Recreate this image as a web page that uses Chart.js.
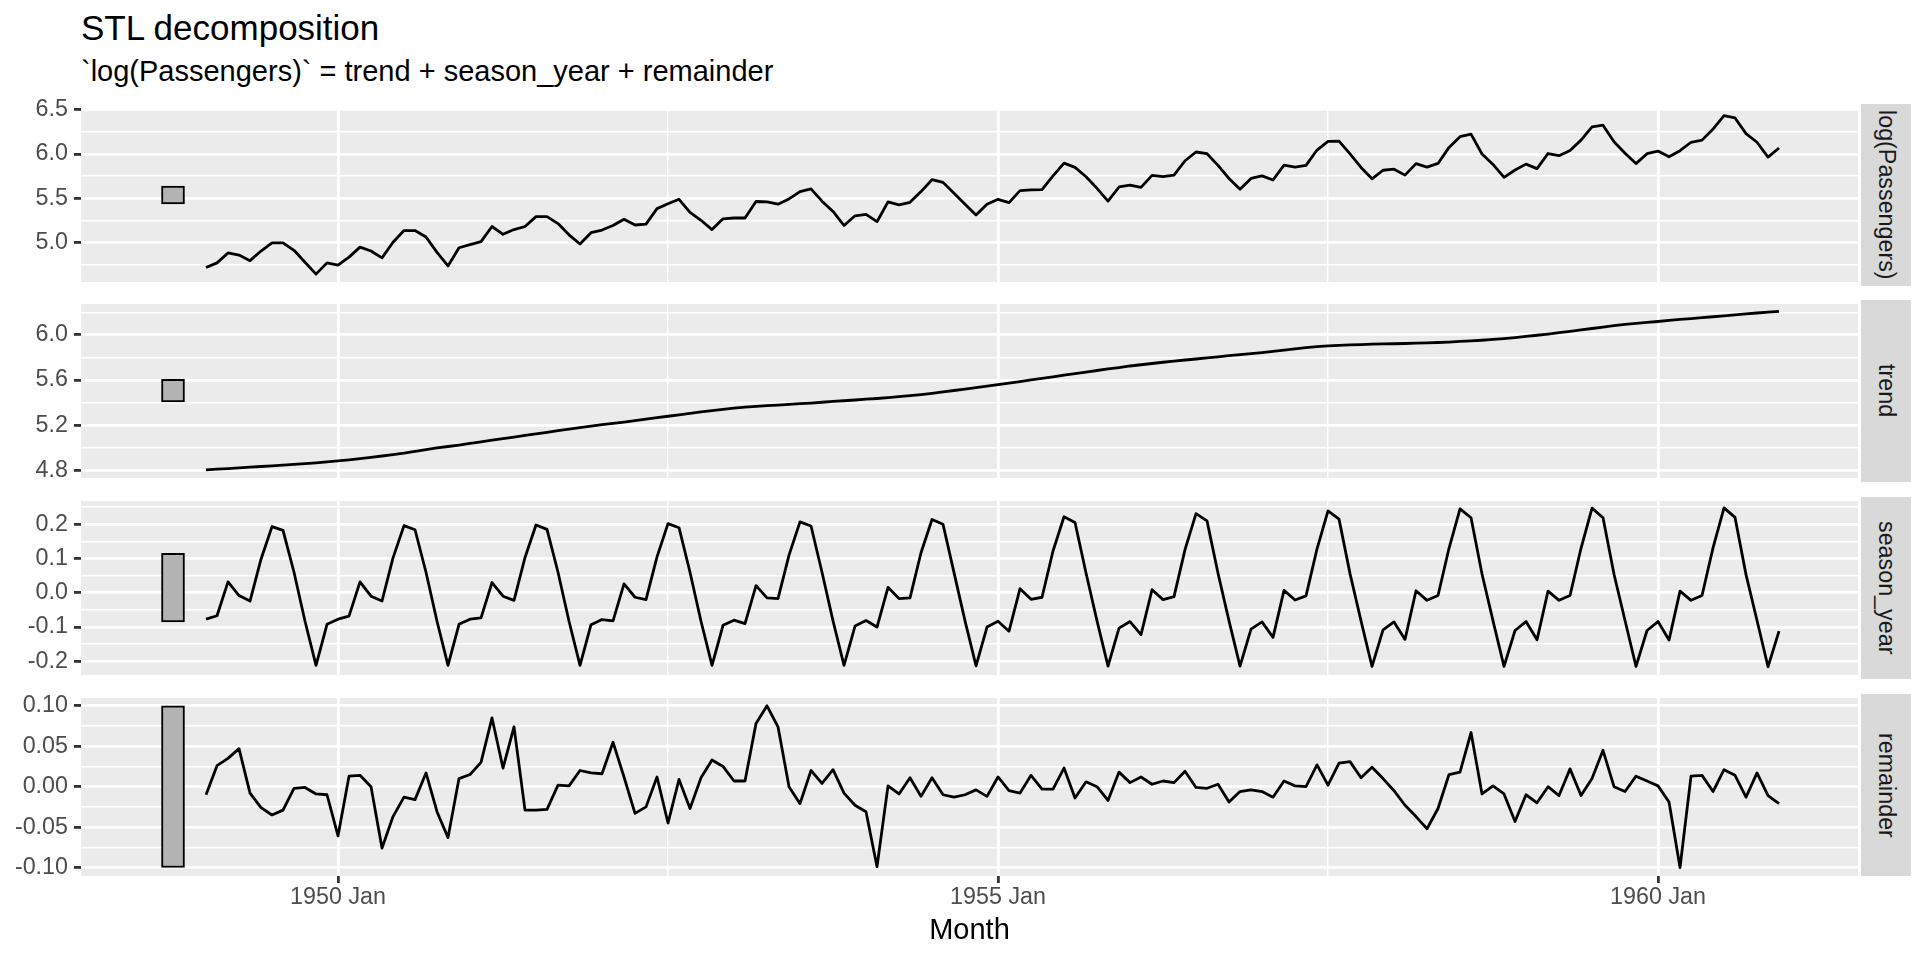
<!DOCTYPE html>
<html>
<head>
<meta charset="utf-8">
<script src="https://cdn.jsdelivr.net/npm/chart.js@4.4.1/dist/chart.umd.min.js"></script>
<style>
  body { margin: 0; background: #fff; width: 1920px; height: 960px; overflow: hidden; position: relative;
         font-family: "Liberation Sans", Arial, sans-serif; }
  canvas { position: absolute; left: 0; }
  .title { position: absolute; left: 81px; top: 10px; font-size: 35px; line-height: 35px; color: #000; white-space: nowrap; }
  .subtitle { position: absolute; left: 81px; top: 57px; font-size: 29px; line-height: 29px; color: #000; white-space: nowrap; }
  .strip { position: absolute; left: 1861px; width: 50px; height: 182px; background: #D9D9D9;
           display: flex; align-items: center; justify-content: center; }
  .strip span { writing-mode: vertical-rl; font-size: 23.3px; color: #1A1A1A; white-space: nowrap; }
</style>
</head>
<body>
<div class="title">STL decomposition</div>
<div class="subtitle">`log(Passengers)` = trend + season_year + remainder</div>

<script>
// monthly series, Jan 1949 .. Dec 1960
const startYear = 1949;

const logPassengers = [
  4.718, 4.771, 4.883, 4.860, 4.796, 4.905, 4.997, 4.997, 4.913, 4.779, 4.644, 4.771,
  4.745, 4.836, 4.949, 4.905, 4.828, 5.004, 5.136, 5.136, 5.063, 4.890, 4.736, 4.942,
  4.977, 5.011, 5.182, 5.094, 5.147, 5.182, 5.293, 5.293, 5.215, 5.088, 4.984, 5.112,
  5.142, 5.193, 5.263, 5.199, 5.209, 5.384, 5.438, 5.489, 5.342, 5.252, 5.147, 5.268,
  5.278, 5.278, 5.464, 5.460, 5.434, 5.493, 5.576, 5.606, 5.468, 5.352, 5.193, 5.303,
  5.318, 5.236, 5.460, 5.425, 5.455, 5.576, 5.710, 5.680, 5.557, 5.434, 5.313, 5.434,
  5.489, 5.451, 5.587, 5.595, 5.598, 5.753, 5.897, 5.849, 5.743, 5.613, 5.468, 5.628,
  5.649, 5.624, 5.759, 5.746, 5.762, 5.924, 6.023, 6.004, 5.872, 5.724, 5.602, 5.724,
  5.753, 5.707, 5.875, 5.852, 5.872, 6.045, 6.142, 6.146, 6.001, 5.849, 5.720, 5.817,
  5.829, 5.762, 5.892, 5.852, 5.894, 6.075, 6.196, 6.225, 6.001, 5.883, 5.737, 5.820,
  5.886, 5.835, 6.006, 5.981, 6.040, 6.157, 6.306, 6.326, 6.138, 6.009, 5.892, 6.004,
  6.033, 5.969, 6.038, 6.133, 6.157, 6.282, 6.433, 6.407, 6.230, 6.133, 5.966, 6.068
];

const trend = [
  4.805, 4.810, 4.816, 4.822, 4.828, 4.834, 4.840, 4.846, 4.853, 4.860, 4.867, 4.875,
  4.883, 4.893, 4.904, 4.915, 4.927, 4.939, 4.953, 4.968, 4.984, 4.998, 5.011, 5.024,
  5.039, 5.053, 5.067, 5.081, 5.095, 5.109, 5.123, 5.137, 5.151, 5.165, 5.178, 5.191,
  5.205, 5.215, 5.227, 5.240, 5.253, 5.266, 5.279, 5.292, 5.305, 5.317, 5.328, 5.339,
  5.350, 5.359, 5.366, 5.373, 5.378, 5.384, 5.390, 5.396, 5.403, 5.410, 5.416, 5.423,
  5.430, 5.436, 5.443, 5.452, 5.461, 5.471, 5.482, 5.494, 5.507, 5.520, 5.533, 5.545,
  5.558, 5.572, 5.586, 5.600, 5.614, 5.628, 5.643, 5.657, 5.670, 5.684, 5.698, 5.710,
  5.724, 5.735, 5.746, 5.757, 5.767, 5.777, 5.786, 5.796, 5.805, 5.815, 5.824, 5.834,
  5.843, 5.853, 5.864, 5.875, 5.886, 5.895, 5.902, 5.907, 5.911, 5.914, 5.917, 5.919,
  5.921, 5.923, 5.926, 5.929, 5.932, 5.936, 5.941, 5.947, 5.952, 5.959, 5.967, 5.976,
  5.986, 5.996, 6.007, 6.019, 6.031, 6.043, 6.056, 6.069, 6.082, 6.093, 6.102, 6.110,
  6.118, 6.127, 6.136, 6.144, 6.152, 6.160, 6.168, 6.176, 6.185, 6.193, 6.200, 6.207
];

const seasonYear = [
  -0.077, -0.067, 0.032, -0.008, -0.024, 0.098, 0.193, 0.182, 0.060, -0.083, -0.212, -0.092,
  -0.077, -0.068, 0.032, -0.010, -0.024, 0.102, 0.196, 0.184, 0.060, -0.083, -0.212, -0.092,
  -0.077, -0.073, 0.030, -0.010, -0.022, 0.103, 0.198, 0.185, 0.060, -0.083, -0.212, -0.093,
  -0.078, -0.082, 0.026, -0.013, -0.020, 0.105, 0.202, 0.190, 0.060, -0.083, -0.212, -0.095,
  -0.080, -0.090, 0.021, -0.015, -0.017, 0.110, 0.207, 0.195, 0.060, -0.082, -0.212, -0.097,
  -0.081, -0.100, 0.016, -0.017, -0.015, 0.117, 0.214, 0.200, 0.059, -0.082, -0.213, -0.100,
  -0.083, -0.112, 0.012, -0.019, -0.013, 0.122, 0.222, 0.205, 0.058, -0.082, -0.214, -0.103,
  -0.084, -0.122, 0.009, -0.020, -0.011, 0.126, 0.231, 0.210, 0.057, -0.082, -0.214, -0.106,
  -0.085, -0.130, 0.007, -0.021, -0.009, 0.128, 0.239, 0.215, 0.056, -0.082, -0.215, -0.108,
  -0.085, -0.136, 0.006, -0.022, -0.008, 0.130, 0.245, 0.219, 0.055, -0.082, -0.215, -0.110,
  -0.084, -0.137, 0.005, -0.022, -0.008, 0.130, 0.247, 0.219, 0.054, -0.081, -0.215, -0.110,
  -0.084, -0.138, 0.005, -0.022, -0.008, 0.131, 0.248, 0.220, 0.053, -0.081, -0.216, -0.112
];

const remainder = [
  -0.010, 0.026, 0.035, 0.047, -0.008, -0.026, -0.035, -0.029, -0.002, -0.001, -0.009, -0.010,
  -0.061, 0.013, 0.014, 0.000, -0.076, -0.037, -0.013, -0.016, 0.017, -0.031, -0.063, 0.010,
  0.015, 0.030, 0.085, 0.023, 0.074, -0.029, -0.029, -0.028, 0.002, 0.001, 0.020, 0.017,
  0.016, 0.055, 0.012, -0.033, -0.025, 0.012, -0.045, 0.009, -0.027, 0.011, 0.033, 0.025,
  0.007, 0.007, 0.078, 0.100, 0.074, 0.000, -0.021, 0.020, 0.004, 0.021, -0.008, -0.023,
  -0.031, -0.099, 0.001, -0.009, 0.011, -0.012, 0.011, -0.010, -0.013, -0.010, -0.004, -0.012,
  0.012, -0.005, -0.008, 0.014, -0.003, -0.003, 0.023, -0.014, 0.006, 0.000, -0.017, 0.018,
  0.005, 0.012, 0.003, 0.007, 0.005, 0.019, -0.001, -0.002, 0.003, -0.019, -0.006, -0.004,
  -0.006, -0.013, 0.007, 0.001, 0.000, 0.027, 0.002, 0.029, 0.031, 0.011, 0.024, 0.010,
  -0.005, -0.023, -0.037, -0.052, -0.027, 0.015, 0.018, 0.067, -0.009, 0.001, -0.009, -0.043,
  -0.010, -0.020, 0.000, -0.011, 0.022, -0.011, 0.010, 0.045, 0.000, -0.006, 0.013, 0.007,
  0.001, -0.019, -0.100, 0.013, 0.014, -0.006, 0.021, 0.014, -0.013, 0.017, -0.011, -0.021
];

// grey scale bars (same data length in every panel)
const scaleBarX = 1948.75;
const logBar = [5.438, 5.638];
const trendBar = [5.405, 5.605];
const seasonBar = [-0.085, 0.115];
const remainderBar = [-0.1, 0.1];

// x axis
const xRange = [1948.053, 1961.515];
const xMajor = [1950, 1955, 1960];
const xMajorLabels = ['1950 Jan', '1955 Jan', '1960 Jan'];
const xMinor = [1952.5, 1957.5];

// y axes
const logRange = [4.555, 6.52];
const logMajor = [5.0, 5.5, 6.0, 6.5];
const logLabels = ['5.0', '5.5', '6.0', '6.5'];
const logMinor = [4.75, 5.25, 5.75, 6.25];

const trendRange = [4.732, 6.273];
const trendMajor = [4.8, 5.2, 5.6, 6.0];
const trendLabels = ['4.8', '5.2', '5.6', '6.0'];
const trendMinor = [5.0, 5.4, 5.8, 6.2];

const seasonRange = [-0.24, 0.268];
const seasonMajor = [-0.2, -0.1, 0, 0.1, 0.2];
const seasonLabels = ['-0.2', '-0.1', '0.0', '0.1', '0.2'];
const seasonMinor = [-0.15, -0.05, 0.05, 0.15, 0.25];

const remainderRange = [-0.1105, 0.1097];
const remainderMajor = [-0.1, -0.05, 0, 0.05, 0.1];
const remainderLabels = ['-0.10', '-0.05', '0.00', '0.05', '0.10'];
const remainderMinor = [-0.075, -0.025, 0.025, 0.075];

const FONT = '"Liberation Sans", Arial, sans-serif';
const PANEL_LEFT = 81, PANEL_RIGHT = 1858, PANEL_H = 182, PAD = 16, XAXIS_H = 84;

function tickList(major, labels, minor) {
  return major.map((v, i) => ({ value: v, text: labels[i], main: true }))
    .concat(minor.map(v => ({ value: v, text: '', main: false })))
    .sort((a, b) => a.value - b.value);
}

const gridWidth = c => (c.tick && c.tick.main ? 2.8 : 1.4);
const tickColor = c => (c.tick && c.tick.main ? '#333333' : 'rgba(0,0,0,0)');

const panelBg = {
  id: 'panelBg',
  beforeDraw(chart) {
    const { ctx, chartArea: a } = chart;
    ctx.save();
    ctx.fillStyle = '#EBEBEB';
    ctx.fillRect(a.left, a.top, a.right - a.left, a.bottom - a.top);
    ctx.restore();
  }
};

function makePanel(p) {
  const bottom = p.bottom;
  const canvas = document.createElement('canvas');
  canvas.width = PANEL_RIGHT;
  canvas.height = PAD + PANEL_H + (bottom ? XAXIS_H : PAD);
  canvas.style.top = (p.top - PAD) + 'px';
  document.body.appendChild(canvas);

  const strip = document.createElement('div');
  strip.className = 'strip';
  strip.style.top = p.top + 'px';
  strip.innerHTML = '<span>' + p.name + '</span>';
  document.body.appendChild(strip);

  const xTicks = tickList(xMajor, xMajorLabels, xMinor);
  const yTicks = tickList(p.major, p.labels, p.minor);
  const points = p.series.map((v, i) => ({ x: startYear + i / 12, y: v }));

  new Chart(canvas, {
    type: 'line',
    data: {
      datasets: [
        {
          type: 'bar',
          data: [{ x: scaleBarX, y: p.bar }],
          backgroundColor: '#B3B3B3',
          borderColor: '#000000',
          borderWidth: 2,
          borderSkipped: false,
          barThickness: 23
        },
        {
          type: 'line',
          data: points,
          borderColor: '#000000',
          borderWidth: 2.8,
          borderJoinStyle: 'round',
          pointRadius: 0,
          tension: 0,
          fill: false
        }
      ]
    },
    options: {
      responsive: false,
      animation: false,
      events: [],
      layout: { padding: { left: 0, right: 0, top: PAD, bottom: bottom ? 0 : PAD } },
      plugins: { legend: { display: false }, tooltip: { enabled: false } },
      scales: {
        x: {
          type: 'linear',
          offset: false,
          min: xRange[0], max: xRange[1],
          afterBuildTicks: s => { s.ticks = xTicks.map(t => ({ ...t })); },
          afterFit: s => { s.height = bottom ? XAXIS_H : 0; },
          border: { display: false },
          grid: { offset: false, color: '#FFFFFF', lineWidth: gridWidth, drawTicks: bottom, tickLength: 7,
                  tickColor: tickColor, tickWidth: 2.8 },
          ticks: { display: bottom, autoSkip: false, maxRotation: 0, padding: 1,
                   color: '#4D4D4D', font: { family: FONT, size: 23.3 },
                   callback: (v, i, t) => t[i].text },
          title: { display: bottom, text: 'Month', color: '#000000',
                   font: { family: FONT, size: 29 }, padding: { top: 0, bottom: 12 } }
        },
        y: {
          type: 'linear',
          min: p.range[0], max: p.range[1],
          afterBuildTicks: s => { s.ticks = yTicks.map(t => ({ ...t })); },
          afterFit: s => { s.width = PANEL_LEFT; },
          border: { display: false },
          grid: { color: '#FFFFFF', lineWidth: gridWidth, drawTicks: true, tickLength: 7,
                  tickColor: tickColor, tickWidth: 2.8 },
          ticks: { autoSkip: false, padding: 6, color: '#4D4D4D',
                   font: { family: FONT, size: 23.3 },
                   callback: (v, i, t) => t[i].text }
        }
      }
    },
    plugins: [panelBg]
  });
}

makePanel({ name: 'log(Passengers)', top: 104, series: logPassengers, range: logRange,
            major: logMajor, labels: logLabels, minor: logMinor, bar: logBar, bottom: false });
makePanel({ name: 'trend', top: 300, series: trend, range: trendRange,
            major: trendMajor, labels: trendLabels, minor: trendMinor, bar: trendBar, bottom: false });
makePanel({ name: 'season_year', top: 497, series: seasonYear, range: seasonRange,
            major: seasonMajor, labels: seasonLabels, minor: seasonMinor, bar: seasonBar, bottom: false });
makePanel({ name: 'remainder', top: 694, series: remainder, range: remainderRange,
            major: remainderMajor, labels: remainderLabels, minor: remainderMinor, bar: remainderBar, bottom: true });
</script>
</body>
</html>
